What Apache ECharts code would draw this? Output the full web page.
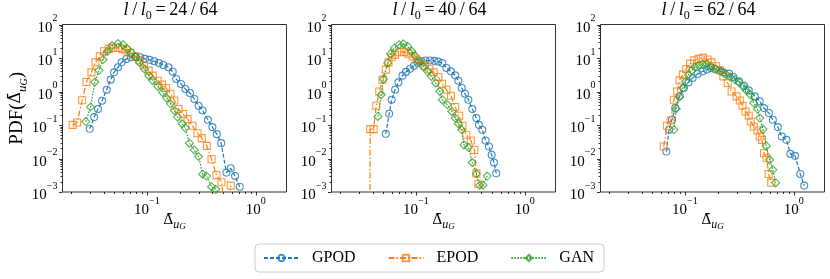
<!DOCTYPE html>
<html><head><meta charset="utf-8">
<script src="https://cdn.jsdelivr.net/npm/echarts@6/dist/echarts.min.js"></script>
<style>html,body{margin:0;padding:0;background:#fff}#c{width:830px;height:279px}</style>
</head><body><div id="c"></div>
<script>
// ---------------- data ----------------
const panelTitles = ['24/64', '40/64', '62/64'];
const seriesNames = ['GPOD', 'EPOD', 'GAN'];
const yTickExps = [-3, -2, -1, 0, 1, 2];
const xTickExps = [-1, 0];

const gpod24 = [[0.0299,0.077],[0.0328,0.172],[0.0356,0.30],[0.0388,0.53],[0.0428,1.13],[0.0466,2.26],[0.050,3.73],[0.0543,5.27],[0.0587,7.43],[0.0648,9.4],[0.0714,10.5],[0.0789,10.8],[0.087,10.5],[0.096,9.4],[0.106,8.8],[0.117,8.0],[0.129,7.1],[0.142,6.2],[0.158,5.3],[0.173,3.9],[0.186,2.37],[0.206,1.68],[0.226,1.19],[0.249,0.90],[0.273,0.60],[0.299,0.376],[0.325,0.272],[0.364,0.143],[0.40,0.0865],[0.44,0.0534],[0.482,0.0287],[0.538,0.0038],[0.59,0.0051],[0.647,0.0030],[0.714,0.00144]];
const epod24 = [[0.0208,0.101],[0.0229,0.119],[0.0255,0.55],[0.0279,1.92],[0.031,3.73],[0.0337,7.4],[0.037,11.2],[0.0405,15.9],[0.0447,18.7],[0.0489,20],[0.0543,20],[0.0596,18.7],[0.0648,17],[0.071,14.2],[0.0784,11.2],[0.0857,8.5],[0.094,6.0],[0.104,4.2],[0.1135,2.97],[0.126,2.1],[0.138,1.6],[0.15,1.27],[0.165,0.86],[0.179,0.54],[0.196,0.30],[0.216,0.212],[0.237,0.150],[0.263,0.0946],[0.292,0.057],[0.32,0.0405],[0.356,0.0238],[0.393,0.0095],[0.436,0.0032],[0.485,0.00195],[0.535,0.0002],[0.59,0.00155]];
const gan24 = [[0.0275,0.127],[0.0304,0.343],[0.0333,1.92],[0.0364,4.3],[0.0396,9.0],[0.0435,15.9],[0.0479,23.5],[0.0543,27],[0.0604,25],[0.0662,18.7],[0.072,14.2],[0.0789,10.8],[0.0857,7.4],[0.0953,4.7],[0.1043,2.97],[0.1135,2.1],[0.126,1.42],[0.14,0.94],[0.152,0.64],[0.165,0.43],[0.179,0.27],[0.192,0.172],[0.211,0.109],[0.226,0.081],[0.246,0.0287],[0.272,0.018],[0.299,0.0114],[0.325,0.0034],[0.353,0.0030],[0.393,0.00144],[0.43,0.0012],[0.47,0.0008]];

const gpod40 = [[0.053,0.0545],[0.0569,0.216],[0.060,0.568],[0.0645,1.13],[0.0692,1.87],[0.0754,2.97],[0.0813,3.84],[0.0885,4.8],[0.0963,5.9],[0.104,7.1],[0.113,8.0],[0.123,8.4],[0.135,8.4],[0.148,8.2],[0.161,7.8],[0.175,7.1],[0.191,5.05],[0.21,4.0],[0.23,3.03],[0.246,2.1],[0.264,1.27],[0.283,0.86],[0.304,0.57],[0.33,0.30],[0.36,0.161],[0.38,0.101],[0.408,0.0718],[0.438,0.0343],[0.47,0.0227],[0.498,0.0128],[0.522,0.0076],[0.548,0.0036]];
const epod40 = [[0.0378,0.00001],[0.0381,0.0753],[0.0409,0.0753],[0.0433,0.376],[0.0461,1.0],[0.0495,2.26],[0.053,4.5],[0.0561,7.4],[0.0601,10.5],[0.0645,12.6],[0.0706,14.8],[0.078,15.2],[0.0853,13.5],[0.0935,11.2],[0.1017,9.0],[0.1116,7.4],[0.121,5.9],[0.133,4.7],[0.146,3.73],[0.161,2.72],[0.174,1.71],[0.191,1.13],[0.21,0.75],[0.23,0.343],[0.25,0.188],[0.268,0.0946],[0.291,0.0509],[0.32,0.0344],[0.345,0.018],[0.36,0.0036],[0.375,0.0017]];
const gan40 = [[0.0448,0.18],[0.0481,0.80],[0.0505,2.37],[0.0552,7.1],[0.0585,13.5],[0.0636,20],[0.0702,25],[0.0769,26.4],[0.0841,22.4],[0.0916,15.9],[0.098,11.8],[0.107,8.0],[0.117,5.6],[0.128,4.0],[0.139,2.83],[0.152,1.8],[0.166,1.0],[0.175,0.57],[0.195,0.40],[0.214,0.254],[0.23,0.161],[0.246,0.109],[0.264,0.0718],[0.277,0.0255],[0.304,0.0218],[0.33,0.0076],[0.36,0.0035],[0.386,0.0016],[0.414,0.0016],[0.453,0.003]];

const gpod62 = [[0.0676,0.0161],[0.0716,0.072],[0.0762,0.143],[0.0817,0.32],[0.0895,0.75],[0.098,1.27],[0.108,1.87],[0.118,2.54],[0.131,3.34],[0.146,4.0],[0.16,4.5],[0.173,5.05],[0.19,4.6],[0.207,4.2],[0.226,3.73],[0.255,3.41],[0.279,2.72],[0.314,2.0],[0.351,1.49],[0.387,1.08],[0.44,0.713],[0.488,0.506],[0.534,0.32],[0.593,0.227],[0.644,0.143],[0.716,0.0865],[0.778,0.0453],[0.859,0.036],[0.933,0.0137],[1.03,0.012],[1.15,0.00346],[1.25,0.00155]];
const epod62 = [[0.064,0.0227],[0.0686,0.0946],[0.0741,0.136],[0.0794,0.568],[0.0851,1.0],[0.0895,2.15],[0.096,3.18],[0.103,4.7],[0.1117,6.8],[0.122,8.5],[0.134,9.4],[0.147,10.1],[0.162,9.0],[0.176,7.4],[0.193,5.65],[0.211,4.29],[0.226,2.83],[0.248,1.8],[0.269,1.0],[0.299,0.713],[0.32,0.54],[0.339,0.376],[0.361,0.254],[0.387,0.188],[0.404,0.127],[0.43,0.0902],[0.464,0.0685],[0.488,0.0453],[0.512,0.036],[0.534,0.0144],[0.565,0.0102],[0.589,0.00346],[0.622,0.0019]];
const gan62 = [[0.0794,0.0718],[0.0834,0.305],[0.0895,0.684],[0.096,1.27],[0.1014,2.0],[0.108,3.18],[0.1158,4.29],[0.124,5.4],[0.134,6.0],[0.146,6.65],[0.158,6.65],[0.173,5.65],[0.193,4.7],[0.216,4.0],[0.237,3.34],[0.26,2.72],[0.289,2.26],[0.316,1.87],[0.344,1.42],[0.368,1.08],[0.4,0.80],[0.43,0.453],[0.464,0.30],[0.488,0.161],[0.522,0.0753],[0.56,0.0238],[0.601,0.0091],[0.644,0.0046],[0.683,0.0019]];

const panelData = [[gpod24, epod24, gan24], [gpod40, epod40, gan40], [gpod62, epod62, gan62]];

// ---------------- layout / style ----------------
const F = "'Liberation Serif','DejaVu Serif',serif";
const FD = "'DejaVu Serif','Liberation Serif',serif";
const COLORS = ['#1f77b4', '#ff7f0e', '#2ca02c'];
const DASH = [[4, 2], [6, 2, 1.5, 2], [1.5, 1.5]];
const SYMS = ['circle', 'rect', 'diamond'];
const SYMSIZE = [7, 7, 8];
const GRID_LEFT = [62.5, 331.5, 600.5], GRID_TOP = 24.5, GRID_W = 224, GRID_H = 167.5;
const X_MIN = 0.0168, X_MAX = 1.92, Y_MIN = 1e-3, Y_MAX = 1e2;

function powFmt(v) {
  const l = Math.log10(v), e = Math.round(l);
  if (Math.abs(l - e) > 1e-6) return '';
  return '{b|10}{s|' + (e < 0 ? '\u2212' + (-e) : String(e)) + '}';
}
const tickRich = {
  b: { fontFamily: F, fontSize: 15, lineHeight: 22, verticalAlign: 'bottom', color: '#000' },
  s: { fontFamily: F, fontSize: 10, lineHeight: 12, verticalAlign: 'top', color: '#000' }
};
function nameRich(big) {
  return {
    a: { fontFamily: F, fontSize: big ? 19 : 15, lineHeight: big ? 22 : 18, verticalAlign: 'top', color: '#000' },
    d: { fontFamily: FD, fontSize: big ? 16 : 14, lineHeight: big ? 22 : 18, verticalAlign: 'top', color: '#000' },
    u: { fontFamily: F, fontSize: big ? 13 : 12, fontStyle: 'italic', lineHeight: big ? 13 : 12, verticalAlign: 'bottom', color: '#000' },
    g: { fontFamily: F, fontSize: big ? 10 : 9, fontStyle: 'italic', lineHeight: big ? 9 : 8, verticalAlign: 'bottom', color: '#000' }
  };
}
const DELTA = '\u0394\u0304';

const chart = echarts.init(document.getElementById('c'), null, { renderer: 'canvas' });

const grids = [], xAxes = [], yAxes = [], titles = [], series = [];
for (let i = 0; i < 3; i++) {
  grids.push({ left: GRID_LEFT[i], top: GRID_TOP, width: GRID_W, height: GRID_H, show: true,
    borderColor: '#000', borderWidth: 0.8, backgroundColor: 'transparent', containLabel: false });
  xAxes.push({ type: 'log', logBase: 10, gridIndex: i, min: X_MIN, max: X_MAX, splitNumber: 2,
    axisLine: { show: false }, axisTick: { show: false }, splitLine: { show: false }, minorTick: { show: false },
    axisLabel: { show: true, margin: 4, formatter: powFmt, rich: tickRich, showMinLabel: false, showMaxLabel: false },
    name: '{d|' + DELTA + '}{u|u}{g|G}', nameLocation: 'middle', nameGap: 21, nameMoveOverlap: false,
    nameTextStyle: { rich: nameRich(false) } });
  yAxes.push({ type: 'log', logBase: 10, gridIndex: i, min: Y_MIN, max: Y_MAX, splitNumber: 5,
    axisLine: { show: false }, axisTick: { show: false }, splitLine: { show: false }, minorTick: { show: false },
    axisLabel: { show: true, margin: 5, formatter: powFmt, rich: tickRich },
    name: i === 0 ? '{a|PDF(}{d|' + DELTA + '}{u|u}{g|G}{a|)}' : '', nameLocation: 'middle', nameGap: 33,
    nameRotate: 90, nameMoveOverlap: false,
    nameTextStyle: { rich: nameRich(true) } });
  const T = panelTitles[i].split('/');
  titles.push({ text: '{i|l}{n|\u2009/\u2009}{i|l}{sub|0}{n|\u2009=\u2009' + T[0] + '\u2009/\u2009' + T[1] + '}',
    left: GRID_LEFT[i] + GRID_W / 2 - 4, top: 1, textAlign: 'center', padding: 0,
    textStyle: { fontWeight: 'normal', rich: {
      i: { fontFamily: F, fontSize: 18, fontStyle: 'italic', fontWeight: 'normal', lineHeight: 21, verticalAlign: 'top', color: '#000' },
      n: { fontFamily: F, fontSize: 18, fontWeight: 'normal', lineHeight: 21, verticalAlign: 'top', color: '#000' },
      sub: { fontFamily: F, fontSize: 12, fontWeight: 'normal', lineHeight: 12, verticalAlign: 'bottom', color: '#000' } } } });
  for (let s = 0; s < 3; s++) {
    series.push({ name: seriesNames[s], type: 'line', xAxisIndex: i, yAxisIndex: i,
      data: panelData[i][s], symbol: SYMS[s], symbolSize: SYMSIZE[s], showSymbol: true, clip: true,
      color: COLORS[s],
      lineStyle: { color: COLORS[s], width: 1.2, type: DASH[s] },
      itemStyle: { color: 'rgba(255,255,255,0)', borderColor: COLORS[s], borderWidth: 1.1, opacity: 0.8 },
      emphasis: { disabled: true }, z: 2 + s });
  }
}

chart.setOption({
  animation: false,
  backgroundColor: '#fff',
  title: titles,
  grid: grids, xAxis: xAxes, yAxis: yAxes, series: series,
  legend: { data: seriesNames, left: 255, top: 244, orient: 'horizontal', itemWidth: 35, itemHeight: 8,
    itemGap: 32, padding: [6, 10, 6, 8], borderColor: '#cccccc', borderWidth: 1, borderRadius: 4,
    textStyle: { fontFamily: F, fontSize: 16, color: '#000', padding: [0, 0, 0, 8] } }
});

// ticks (major + log minor) placed through the axes' own scales
const els = [];
function ln(x1, y1, x2, y2) {
  els.push({ type: 'line', silent: true, shape: { x1: x1, y1: y1, x2: x2, y2: y2 },
    style: { stroke: '#000', lineWidth: 0.8 } });
}
for (let i = 0; i < 3; i++) {
  const bottom = chart.convertToPixel({ yAxisIndex: i }, Y_MIN);
  const left = chart.convertToPixel({ xAxisIndex: i }, X_MIN);
  for (let e = -2; e <= 0; e++) for (let k = 1; k <= 9; k++) {
    const v = k * Math.pow(10, e);
    if (v < X_MIN || v > X_MAX) continue;
    const px = Math.round(chart.convertToPixel({ xAxisIndex: i }, v)) + 0.5;
    ln(px, bottom, px, bottom + (k === 1 ? 3.5 : 2));
  }
  for (let e = -3; e <= 2; e++) for (let k = 1; k <= 9; k++) {
    const v = k * Math.pow(10, e);
    if (v < Y_MIN * 0.999 || v > Y_MAX * 1.001) continue;
    const py = Math.round(chart.convertToPixel({ yAxisIndex: i }, v)) + 0.5;
    ln(left - (k === 1 ? 3.5 : 2), py, left, py);
  }
}
chart.setOption({ graphic: { elements: els } });
</script>
</body></html>
